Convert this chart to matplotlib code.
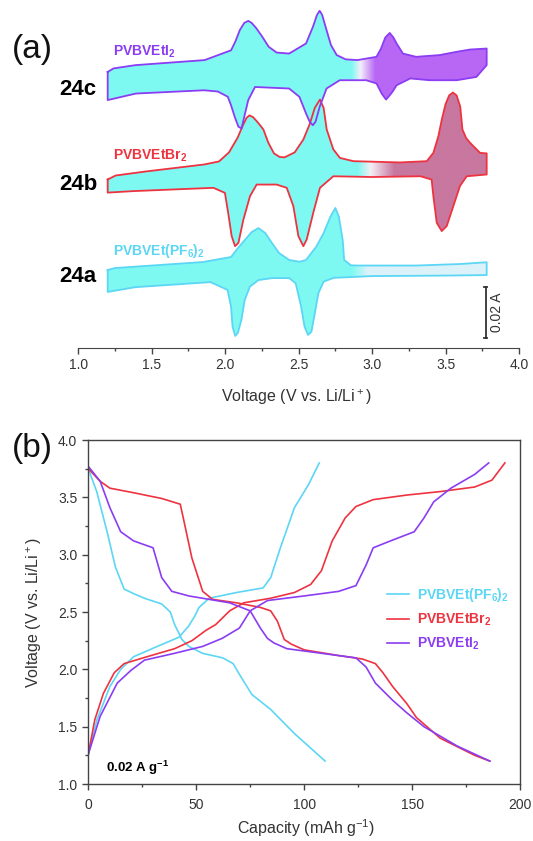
import matplotlib
matplotlib.use('Agg')
import matplotlib.pyplot as plt
import numpy as np
from matplotlib.patches import Polygon
from matplotlib.colors import to_rgb
from matplotlib.ticker import MultipleLocator

plt.rcParams['font.family'] = ['Liberation Sans', 'DejaVu Sans']
plt.rcParams['mathtext.fontset'] = 'custom'
plt.rcParams['mathtext.rm'] = 'Liberation Sans'
plt.rcParams['mathtext.bf'] = 'Liberation Sans:bold'

# ---- (a) cyclic voltammograms, current in mA, each loop shifted by an offset ----
# 24a  PVBVEt(PF6)2
a_v_up = [1.20, 1.25, 1.85, 2.04, 2.086, 2.133, 2.18, 2.226, 2.273, 2.319, 2.366, 2.436, 2.506, 2.55, 2.62, 2.67,
          2.716, 2.75, 2.774, 2.80, 2.81, 2.855, 2.90, 3.30, 3.60, 3.78]
a_i_up = [0.0, 0.8, 3.2, 5.2, 8.7, 11.9, 15.1, 16.7, 14.7, 10.7, 6.8, 4.0, 3.3, 4.0, 9.3, 14.7,
          21.2, 24.7, 21.2, 11.9, 4.0, 1.9, 1.8, 1.8, 2.4, 3.1]
a_v_dn = [1.20, 1.39, 1.90, 2.016, 2.04, 2.05, 2.068, 2.086, 2.11, 2.133, 2.168, 2.226, 2.32, 2.436, 2.48, 2.517,
          2.54, 2.564, 2.587, 2.61, 2.634, 2.67, 2.74, 3.00, 3.50, 3.78]
a_i_dn = [-8.7, -6.8, -4.8, -7.9, -14.6, -22.5, -26.2, -25.0, -19.9, -11.9, -6.6, -4.0, -3.2, -3.2, -5.3, -14.6,
          -22.5, -25.8, -24.5, -17.2, -9.3, -4.6, -3.1, -2.4, -2.2, -2.0]

# 24b  PVBVEtBr2
b_v_up = [1.20, 1.254, 1.459, 1.858, 1.958, 2.026, 2.085, 2.12, 2.145, 2.165, 2.19, 2.225, 2.26, 2.293, 2.332,
          2.37, 2.403, 2.473, 2.532, 2.575, 2.61, 2.645, 2.67, 2.691, 2.736, 2.781, 2.872, 3.19, 3.372, 3.417,
          3.451, 3.475, 3.50, 3.525, 3.55, 3.575, 3.60, 3.615, 3.64, 3.667, 3.735, 3.78]
b_i_up = [-4.0, -2.4, -0.8, 2.0, 3.2, 6.8, 12.7, 17.5, 20.5, 21.5, 20.8, 18.5, 15.9, 10.7, 6.4,
          5.0, 4.8, 6.8, 11.9, 18.0, 24.5, 27.8, 24.5, 15.9, 8.0, 4.6, 3.3, 2.8, 3.3, 6.6,
          13.2, 20.0, 26.0, 29.5, 30.6, 29.5, 25.0, 15.9, 12.5, 10.6, 6.6, 6.4]
b_v_dn = [1.20, 1.376, 1.92, 1.998, 2.02, 2.044, 2.067, 2.09, 2.124, 2.169, 2.214, 2.35, 2.419, 2.464, 2.498,
          2.532, 2.555, 2.60, 2.645, 2.736, 3.00, 3.33, 3.405, 3.417, 3.44, 3.474, 3.508, 3.553, 3.598, 3.644, 3.78]
b_i_dn = [-9.2, -8.6, -7.3, -9.3, -17.2, -26.5, -30.5, -29.2, -19.9, -10.6, -6.0, -6.0, -7.3, -14.6, -26.5,
          -30.5, -27.8, -17.1, -7.3, -2.7, -3.0, -2.7, -4.0, -10.6, -21.2, -24.5, -22.5, -14.6, -6.6, -2.7, -2.0]

# 24c  PVBVEtI2
c_v_up = [1.20, 1.24, 1.39, 1.86, 2.04, 2.07, 2.10, 2.13, 2.157, 2.18, 2.21, 2.25, 2.296, 2.35, 2.435, 2.55,
          2.597, 2.625, 2.643, 2.66, 2.69, 2.72, 2.759, 2.82, 2.90, 3.03, 3.06, 3.09, 3.12, 3.145, 3.167, 3.21,
          3.30, 3.46, 3.576, 3.667, 3.78]
c_i_up = [1.3, 2.7, 4.0, 6.0, 9.9, 13.5, 18.0, 20.8, 21.6, 20.8, 18.8, 15.5, 11.3, 9.0, 8.6, 12.6,
          19.2, 24.0, 25.6, 24.0, 17.9, 12.0, 8.0, 6.3, 6.0, 7.3, 10.5, 15.0, 16.8, 15.0, 12.6, 8.6,
          7.3, 8.0, 9.3, 10.2, 10.6]
c_v_dn = [1.20, 1.393, 1.856, 1.95, 2.018, 2.04, 2.065, 2.09, 2.111, 2.13, 2.157, 2.203, 2.435, 2.505, 2.55,
          2.575, 2.597, 2.615, 2.643, 2.69, 2.78, 2.96, 3.03, 3.065, 3.095, 3.12, 3.14, 3.167, 3.26, 3.39,
          3.576, 3.71, 3.78]
c_i_dn = [-9.9, -7.3, -6.0, -6.5, -8.6, -12.0, -16.6, -20.5, -21.2, -16.5, -9.9, -4.7, -5.3, -8.6, -15.2,
          -18.5, -19.9, -18.5, -12.6, -5.3, -2.0, -2.0, -3.3, -7.3, -9.7, -8.0, -6.5, -4.0, -1.3, -2.0,
          -2.0, -0.7, 4.0]

offsets = {'24a': 0.0, '24b': 40.0, '24c': 77.5}

# ---- (b) charge/discharge profiles: capacity (mAh/g), voltage (V) ----
pf6_dis_cap = [0, 3.9, 8.7, 12.6, 16.6, 21, 26, 34, 38, 40, 43.4, 46.6, 52.9, 62.3, 67.1, 70.2, 75.8, 84.5, 95.5, 109.7]
pf6_dis_v = [3.75, 3.55, 3.20, 2.89, 2.70, 2.66, 2.62, 2.57, 2.50, 2.39, 2.26, 2.20, 2.14, 2.10, 2.05, 1.95, 1.78, 1.65, 1.44, 1.20]
pf6_chg_cap = [0, 4, 10, 15, 21, 32, 42, 46.6, 49.5, 51.3, 56, 68.7, 81, 84.5, 89, 95.5, 102, 107]
pf6_chg_v = [1.26, 1.56, 1.85, 2.00, 2.11, 2.20, 2.28, 2.38, 2.47, 2.54, 2.62, 2.67, 2.71, 2.80, 3.06, 3.41, 3.61, 3.80]

br_dis_cap = [0, 5.5, 10, 21, 34, 42.6, 44, 48, 53, 57.6, 68.7, 79.7, 84.5, 87.6, 90.8, 94, 100, 116, 127, 133,
              136.5, 141, 147.6, 152, 163, 179, 186]
br_dis_v = [3.75, 3.64, 3.58, 3.54, 3.49, 3.44, 3.32, 2.97, 2.68, 2.61, 2.58, 2.54, 2.51, 2.42, 2.26, 2.22, 2.17,
            2.12, 2.09, 2.05, 1.97, 1.85, 1.70, 1.58, 1.40, 1.25, 1.20]
br_chg_cap = [0, 3, 7, 12, 16.6, 29, 40, 48, 54.5, 59, 65.5, 72, 84.5, 95.5, 103, 108, 113, 119, 124, 132,
              147.6, 163, 179, 187, 193]
br_chg_v = [1.26, 1.56, 1.79, 1.97, 2.05, 2.12, 2.18, 2.25, 2.34, 2.39, 2.51, 2.58, 2.62, 2.67, 2.74, 2.86, 3.12,
            3.32, 3.42, 3.48, 3.52, 3.55, 3.59, 3.65, 3.80]

i2_dis_cap = [0, 5.5, 10, 15, 21, 30, 34, 38.7, 46.6, 65.5, 75, 79.7, 83, 86, 92, 108, 124, 128.7, 133, 141,
              147.6, 155.5, 171, 186]
i2_dis_v = [3.77, 3.64, 3.41, 3.20, 3.12, 3.06, 2.80, 2.68, 2.64, 2.58, 2.51, 2.36, 2.27, 2.23, 2.18, 2.14, 2.10,
            2.02, 1.88, 1.73, 1.62, 1.50, 1.33, 1.20]
i2_chg_cap = [0, 5.5, 13.4, 19.7, 26, 40, 53, 62, 70, 75, 83, 100, 116, 124, 128.7, 132, 140, 151, 155.5, 160,
              168, 179, 185.5]
i2_chg_v = [1.26, 1.59, 1.88, 1.99, 2.08, 2.14, 2.20, 2.27, 2.36, 2.51, 2.60, 2.64, 2.68, 2.73, 2.91, 3.06, 3.12,
            3.20, 3.32, 3.46, 3.58, 3.70, 3.80]

CYAN, RED, PURPLE = '#5cd6f5', '#ee3340', '#8a3df2'
CYAN_FILL = '#7ef9f2'
TXT = '#333333'

W, H = 533, 841


def fx(x):
    return x / W


def fy(y):
    return 1 - y / H


fig = plt.figure(figsize=(5.33, 8.41), dpi=100)

# ---------------- panel (a) ----------------
ax1 = fig.add_axes([fx(78.3), fy(348), fx(519) - fx(78.3), 348 / H])


def cv_loop(ax, v_up, i_up, v_dn, i_dn, off, line_col, stops):
    xs = np.concatenate([v_up, v_dn[::-1]])
    ys = np.concatenate([np.array(i_up) + off, np.array(i_dn)[::-1] + off])
    poly = Polygon(np.column_stack([xs, ys]), closed=True, fc='none', ec='none')
    ax.add_patch(poly)
    grid = np.linspace(1.2, 3.8, 500)
    sv = [s[0] for s in stops]
    rgb = np.stack([np.interp(grid, sv, [to_rgb(s[1])[k] for s in stops]) for k in range(3)], axis=-1)
    im = ax.imshow(rgb[None, :, :], extent=[1.2, 3.8, ys.min(), ys.max()], aspect='auto',
                   origin='lower', interpolation='bilinear', zorder=1)
    im.set_clip_path(poly)
    ax.plot(np.append(xs, xs[0]), np.append(ys, ys[0]), color=line_col, lw=1.3, zorder=3,
            solid_joinstyle='round')


cv_loop(ax1, a_v_up, a_i_up, a_v_dn, a_i_dn, offsets['24a'], CYAN,
        [(1.2, CYAN_FILL), (2.86, CYAN_FILL), (2.97, '#dcf2fa'), (3.8, '#dcf2fa')])
cv_loop(ax1, b_v_up, b_i_up, b_v_dn, b_i_dn, offsets['24b'], RED,
        [(1.2, CYAN_FILL), (2.90, CYAN_FILL), (2.99, '#f4eef4'), (3.15, '#c8779f'), (3.8, '#c8779f')])
cv_loop(ax1, c_v_up, c_i_up, c_v_dn, c_i_dn, offsets['24c'], PURPLE,
        [(1.2, CYAN_FILL), (2.86, CYAN_FILL), (2.92, '#f4eefa'), (3.02, '#b867f5'), (3.8, '#b867f5')])

ax1.set_xlim(1, 4)
ax1.set_ylim(-31, 107.4)
for s in ['top', 'right', 'left']:
    ax1.spines[s].set_visible(False)
ax1.spines['bottom'].set_color('#444444')
ax1.set_yticks([])
ax1.xaxis.set_major_locator(MultipleLocator(0.5))
ax1.xaxis.set_minor_locator(MultipleLocator(0.25))
ax1.set_xticklabels([f'{v:.1f}' for v in ax1.get_xticks()])
ax1.tick_params(axis='x', which='major', length=4, width=1, color='#444444', labelsize=10,
                labelcolor=TXT, pad=3)
ax1.tick_params(axis='x', which='minor', length=2, width=1, color='#444444')

# scale bar 0.02 A = 20 mA
ax1.plot([3.773, 3.773], [-26.9, -6.9], color='#333333', lw=1.3)
ax1.plot([3.763, 3.783], [-26.9, -26.9], color='#333333', lw=1.3)
ax1.plot([3.763, 3.783], [-6.9, -6.9], color='#333333', lw=1.3)
fig.text(fx(497), fy(312), '0.02 A', rotation=90, ha='center', va='center', fontsize=10, color=TXT)

fig.text(fx(12), fy(58), '(a)', fontsize=24, color='#111111', ha='left', va='baseline')
fig.text(fx(59), fy(95), '24c', fontsize=16, fontweight='bold', ha='left', va='baseline')
fig.text(fx(59), fy(190), '24b', fontsize=16, fontweight='bold', ha='left', va='baseline')
fig.text(fx(59), fy(282), '24a', fontsize=16, fontweight='bold', ha='left', va='baseline')
fig.text(fx(113), fy(56), r'PVBVEtI$_\mathbf{2}$', fontsize=10, fontweight='bold', color=PURPLE,
         ha='left', va='baseline')
fig.text(fx(113), fy(160), r'PVBVEtBr$_\mathbf{2}$', fontsize=10, fontweight='bold', color=RED,
         ha='left', va='baseline')
fig.text(fx(113), fy(255), r'PVBVEt(PF$_\mathbf{6}$)$_\mathbf{2}$', fontsize=10, fontweight='bold',
         color=CYAN, ha='left', va='baseline')
fig.text(fx(297), fy(397), r'Voltage (V vs. Li/Li$^+$)', fontsize=11.5, color=TXT, ha='center', va='center')

# ---------------- panel (b) ----------------
ax2 = fig.add_axes([fx(88.3), fy(784), fx(520) - fx(88.3), 344 / H])
l1, = ax2.plot(pf6_dis_cap, pf6_dis_v, color=CYAN, lw=1.2)
ax2.plot(pf6_chg_cap, pf6_chg_v, color=CYAN, lw=1.2)
l2, = ax2.plot(br_dis_cap, br_dis_v, color=RED, lw=1.2)
ax2.plot(br_chg_cap, br_chg_v, color=RED, lw=1.2)
l3, = ax2.plot(i2_dis_cap, i2_dis_v, color=PURPLE, lw=1.2)
ax2.plot(i2_chg_cap, i2_chg_v, color=PURPLE, lw=1.2)

ax2.set_xlim(0, 200)
ax2.set_ylim(1, 4)
ax2.xaxis.set_major_locator(MultipleLocator(50))
ax2.xaxis.set_minor_locator(MultipleLocator(25))
ax2.yaxis.set_major_locator(MultipleLocator(0.5))
ax2.yaxis.set_minor_locator(MultipleLocator(0.25))
ax2.set_yticklabels([f'{v:.1f}' for v in ax2.get_yticks()])
for s in ax2.spines.values():
    s.set_color('#444444')
    s.set_linewidth(1.0)
ax2.tick_params(which='major', length=4, width=1, color='#444444', labelsize=10, labelcolor=TXT, pad=4)
ax2.tick_params(which='minor', length=2, width=1, color='#444444')
ax2.tick_params(axis='x', which='major', pad=6)

leg = ax2.legend([l1, l2, l3],
                 [r'PVBVEt(PF$_\mathbf{6}$)$_\mathbf{2}$', r'PVBVEtBr$_\mathbf{2}$', r'PVBVEtI$_\mathbf{2}$'],
                 loc='upper left', bbox_to_anchor=((386.7 - 88.3) / 431.7, 0.575), frameon=False,
                 borderpad=0, borderaxespad=0, handlelength=1.6, handletextpad=0.6, labelspacing=0.55,
                 prop={'size': 10, 'weight': 'bold'})
for t, c in zip(leg.get_texts(), [CYAN, RED, PURPLE]):
    t.set_color(c)

fig.text(fx(106), fy(772), r'0.02 A g$^\mathbf{-1}$', fontsize=9.5, fontweight='bold', ha='left', va='baseline')
fig.text(fx(12), fy(457), '(b)', fontsize=24, color='#111111', ha='left', va='baseline')
fig.text(fx(34), fy(612), r'Voltage (V vs. Li/Li$^+$)', rotation=90, fontsize=11.5, color=TXT,
         ha='center', va='center')
fig.text(fx(306), fy(828), r'Capacity (mAh g$^{-1}$)', fontsize=11.5, color=TXT, ha='center', va='center')

fig.savefig('out.png', dpi=100)
